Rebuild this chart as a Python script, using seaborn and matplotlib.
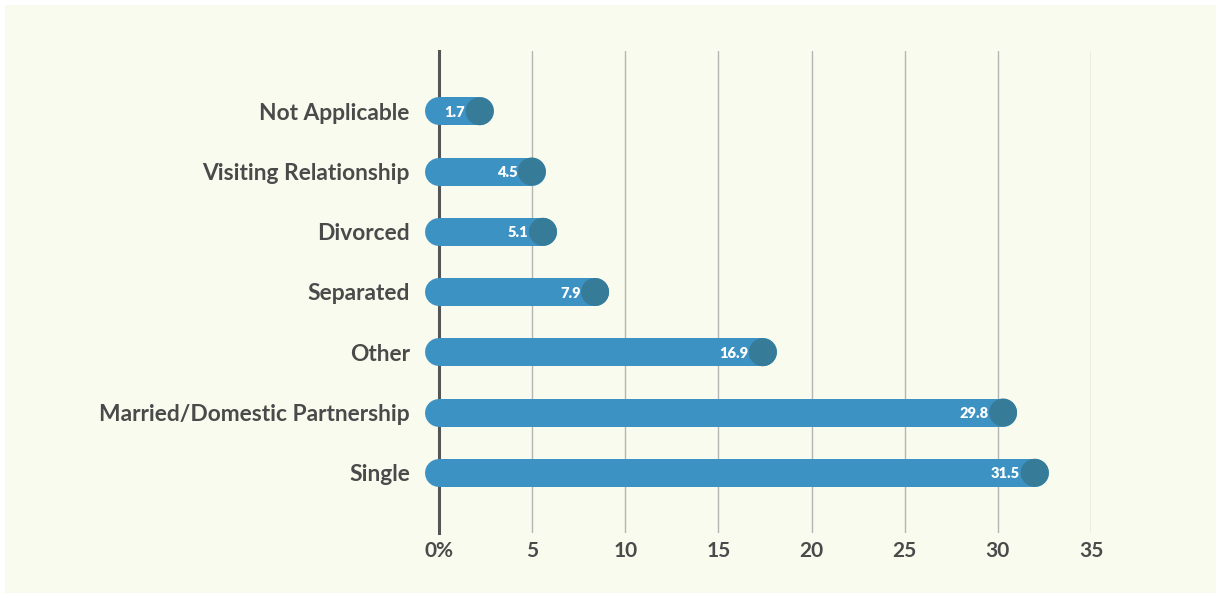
import matplotlib
matplotlib.use("Agg")
import matplotlib.pyplot as plt
import seaborn as sns
import pandas as pd

categories = ["Not Applicable", "Visiting Relationship", "Divorced", "Separated",
              "Other", "Married/Domestic Partnership", "Single"]
values = [1.7, 4.5, 5.1, 7.9, 16.9, 29.8, 31.5]
value_labels = ["1.7", "4.5", "5.1", "7.9", "16.9", "29.8", "31.5"]
xticks = [0, 5, 10, 15, 20, 25, 30, 35]
xtick_labels = ["0%", "5", "10", "15", "20", "25", "30", "35"]

BG = "#f9fbef"
BAR = "#3d92c4"
CAP = "#367b98"
TXT = "#4a4a4a"
GRID = "#b5b5b3"

sns.set_theme(style="white")
plt.rcParams["font.family"] = ["Lato", "DejaVu Sans"]

fig = plt.figure(figsize=(12.21, 5.98), dpi=100)
fig.patch.set_facecolor("white")
# cream panel as a background axes
bgax = fig.add_axes([5 / 1221, 5 / 598, 1211 / 1221, 588 / 598], zorder=-5)
bgax.set_facecolor(BG)
bgax.set_xticks([])
bgax.set_yticks([])
for s in bgax.spines.values():
    s.set_visible(False)

ax = fig.add_axes([439 / 1221, 1 - 533 / 598, (1091 - 439) / 1221, (533 - 51) / 598])
ax.patch.set_alpha(0)

df = pd.DataFrame({"cat": categories, "val": values, "pos": range(len(categories))})
off = 0.48  # circle offset past the value (in data units)
df["end"] = df["val"] + off

lw_pt = 28 * 72 / 100
for r in df.itertuples():
    ax.plot([0, r.end], [r.pos, r.pos], color=BAR, lw=lw_pt,
            solid_capstyle="round", clip_on=False, zorder=3)

sns.scatterplot(data=df, x="end", y="pos", s=lw_pt ** 2, color=CAP,
                edgecolor="none", ax=ax, zorder=4, clip_on=False, legend=False)

for r, lab in zip(df.itertuples(), value_labels):
    ax.text(r.val - 0.3, r.pos + 0.02, lab, ha="right", va="center", color="white",
            fontsize=10.5, fontweight="heavy", zorder=5)

ax.set_xlim(0, 35)
ax.set_ylim(7, -1)
ax.set_yticks(range(len(categories)))
ax.set_yticklabels(categories, fontsize=16.4, fontweight="bold", color=TXT)
ax.set_xticks(xticks)
ax.set_xticklabels(xtick_labels, fontsize=15, fontweight="bold", color=TXT)
ax.tick_params(axis="y", length=0, pad=21)
ax.tick_params(axis="x", length=0, pad=6)
ax.set_xlabel("")
ax.set_ylabel("")
for x in xticks[1:]:
    ax.axvline(x, color=GRID, lw=1.0, zorder=1)
for s in ["top", "right", "bottom"]:
    ax.spines[s].set_visible(False)
ax.spines["left"].set_color("#555555")
ax.spines["left"].set_linewidth(2.2)
ax.spines["left"].set_zorder(2)

fig.savefig("out.png", dpi=100, facecolor=fig.get_facecolor())
